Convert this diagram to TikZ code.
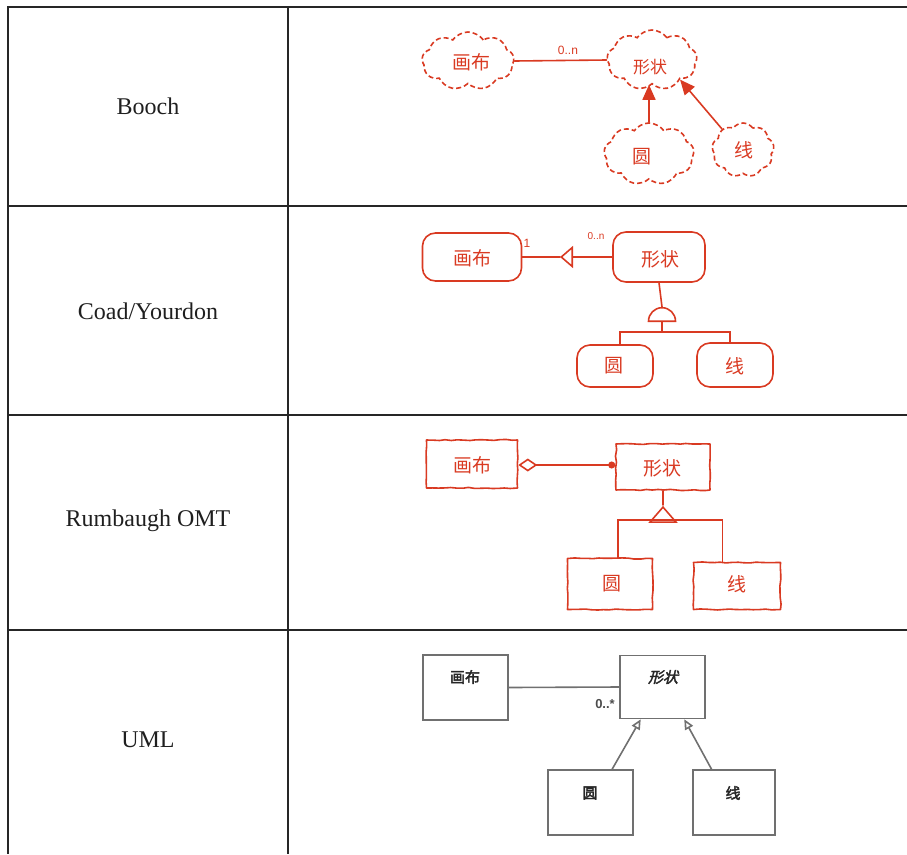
\documentclass[tikz,border=0pt]{standalone}
\usepackage{fontspec}
\setmainfont{Liberation Serif}
\setsansfont{Liberation Sans}
\newfontfamily\cjk{Noto Sans CJK SC}
\newfontfamily\cjkbold[FakeBold=2.5]{Noto Sans CJK SC}
\newfontfamily\cjkslant[FakeSlant=0.25,FakeBold=2.5]{Noto Sans CJK SC}
\usetikzlibrary{shapes.symbols,shapes.geometric,decorations.pathmorphing,arrows.meta}
\definecolor{ink}{HTML}{D93A22}
\definecolor{rulec}{HTML}{262626}
\definecolor{umlgray}{HTML}{707070}
\begin{document}
\begin{tikzpicture}[x=1pt,y=-1pt,
  tablerule/.style={draw=rulec, line width=2.4pt},
  rowlabel/.style={font=\fontsize{24}{28}\selectfont, text=black!88, inner sep=0pt},
  hand/.style={draw=ink, line width=1.6pt, line join=round, decorate,
    decoration={random steps, segment length=6pt, amplitude=0.6pt}},
  handline/.style={draw=ink, line width=1.6pt, line cap=round},
  handtext/.style={font=\cjk\fontsize{19}{20}\selectfont, text=ink, inner sep=0pt},
  smalltext/.style={font=\sffamily\fontsize{12}{13}\selectfont, text=ink, inner sep=0pt},
  bcloud/.style={cloud, cloud puffs=9, cloud puff arc=110, draw=ink, line width=1.6pt,
    dash pattern=on 5pt off 3pt, inner sep=0pt},
  cbox/.style={rectangle, rounded corners=13pt, draw=ink, line width=1.6pt, inner sep=0pt},
  obox/.style={rectangle, hand, inner sep=0pt},
  ubox/.style={rectangle, draw=umlgray, line width=1.6pt, inner sep=0pt},
  uline/.style={draw=umlgray, line width=1.6pt},
  utext/.style={font=\cjkbold\fontsize{15}{16}\selectfont, text=black!85, inner sep=0pt},
]
\useasboundingbox (0,0) rectangle (907,854);

% table rules
\draw[tablerule] (907,7) -- (8,7) -- (8,854);
\draw[tablerule] (288,7) -- (288,854);
\draw[tablerule] (8,206) -- (907,206);
\draw[tablerule] (8,415) -- (907,415);
\draw[tablerule] (8,630) -- (907,630);

% row labels
\node[rowlabel] (lbooch) at (148,106) {Booch};
\node[rowlabel] (lcoad) at (148,311) {Coad/Yourdon};
\node[rowlabel] (lomt) at (148,521) {Rumbaugh OMT};
\node[rowlabel] (luml) at (148,740) {UML};

% ---- Booch: dashed clouds ----
\node[bcloud, minimum width=92, minimum height=58] (bcanvas) at (468,61) {};
\node[handtext] (bcanvast) at (471,62) {画布};
\node[bcloud, minimum width=90, minimum height=60] (bshape) at (652,60) {};
\node[handtext, font=\cjk\fontsize{17}{18}\selectfont] (bshapet) at (650,67) {形状};
\node[bcloud, minimum width=90, minimum height=62] (bcircle) at (649,154) {};
\node[handtext] (bcirclet) at (642,157) {圆};
\node[bcloud, minimum width=62, minimum height=54] (bline) at (743,150) {};
\node[handtext] (blinet) at (744,150) {线};
\draw[handline] (bcanvas.east) -- (bshape.west)
  node[smalltext, pos=0.58, above=5pt] (bmult) {0..n};
\draw[handline, -{Triangle[length=15pt,width=13pt]}] (bcircle.north) -- (bcircle.north |- bshape.south);
\draw[handline, -{Triangle[length=15pt,width=13pt]}] (bline.135) -- (bshape.-35);

% ---- Coad/Yourdon: rounded boxes ----
\node[cbox, minimum width=99, minimum height=48] (ccanvas) at (472,257) {};
\node[handtext] (ccanvast) at (472,258) {画布};
\node[cbox, minimum width=92, minimum height=50] (cshape) at (659,257) {};
\node[handtext] (cshapet) at (660,259) {形状};
\coordinate (ctip) at (560,257);
\draw[handline, -{Triangle[open, length=13pt, width=22pt]}] (cshape.west) -- (ctip);
\draw[handline] (ctip) -- (ccanvas.east);
\node[smalltext] (cone) at (527,243) {1};
\node[smalltext, font=\sffamily\fontsize{10}{11}\selectfont] (cmult) at (596,236) {0..n};
\node[semicircle, draw=ink, line width=1.6pt, minimum width=27pt, inner sep=0pt, anchor=chord center] (cdome) at (662,322) {};
\draw[handline] (cshape.south) -- (cdome.apex);
\coordinate (cjoin) at (662,332);
\draw[handline] (cdome.chord center) -- (cjoin);
\node[cbox, minimum width=76, minimum height=42] (ccircle) at (615,366) {};
\node[handtext] (ccirclet) at (614,366) {圆};
\node[cbox, minimum width=76, minimum height=44] (cline) at (735,365) {};
\node[handtext] (clinet) at (735,366) {线};
\draw[handline] (ccircle.77) |- (cjoin) -| (cline.103);

% ---- Rumbaugh OMT: plain boxes ----
\node[obox, minimum width=91, minimum height=48] (ocanvas) at (472,464) {};
\node[handtext] (ocanvast) at (472,465) {画布};
\node[obox, minimum width=94, minimum height=46] (oshape) at (663,467) {};
\node[handtext] (oshapet) at (662,468) {形状};
\draw[handline, {Diamond[open, length=19pt, width=13pt]}-{Circle[length=7pt]}] (ocanvas.east |- 0,465) -- (oshape.west |- 0,465);
\node[isosceles triangle, shape border rotate=90, draw=ink, line width=1.6pt, minimum height=15pt,
  minimum width=26pt, isosceles triangle stretches, inner sep=0pt, anchor=apex] (otri) at (663,505) {};
\draw[handline] (oshape.south) -- (otri.apex);
\coordinate (ojoin) at (663,520);
\node[obox, minimum width=85, minimum height=51] (ocircle) at (610,584) {};
\node[handtext] (ocirclet) at (612,584) {圆};
\node[obox, minimum width=87, minimum height=47] (oline) at (737,586) {};
\node[handtext] (olinet) at (737,584) {线};
\draw[handline] (ocircle.73) |- (ojoin) -| (oline.121);

% ---- UML: class boxes ----
\node[ubox, minimum width=85, minimum height=65] (ucanvas) at (465.5,687.5) {};
\node[utext] (ucanvast) at (465,677) {画布};
\node[ubox, minimum width=85, minimum height=63] (ushape) at (662.5,687) {};
\node[utext, font=\cjkslant\fontsize{15}{16}\selectfont] (ushapet) at (663,677) {形状};
\draw[uline] (ucanvas.east) -- (ushape.west);
\node[font=\sffamily\bfseries\fontsize{13}{14}\selectfont, text=black!70, inner sep=0pt] (umult) at (605,704) {0..*};
\node[ubox, minimum width=85, minimum height=65] (ucircle) at (590.5,802.5) {};
\node[utext] (ucirclet) at (590,793) {圆};
\node[ubox, minimum width=82, minimum height=65] (uline) at (734,802.5) {};
\node[utext] (ulinet) at (733,793) {线};
\draw[uline, -{Triangle[open, length=10pt, width=9pt]}] (ucircle.57) -- (ushape.-124);
\draw[uline, -{Triangle[open, length=10pt, width=9pt]}] (uline.124) -- (ushape.-56);
\end{tikzpicture}
\end{document}
